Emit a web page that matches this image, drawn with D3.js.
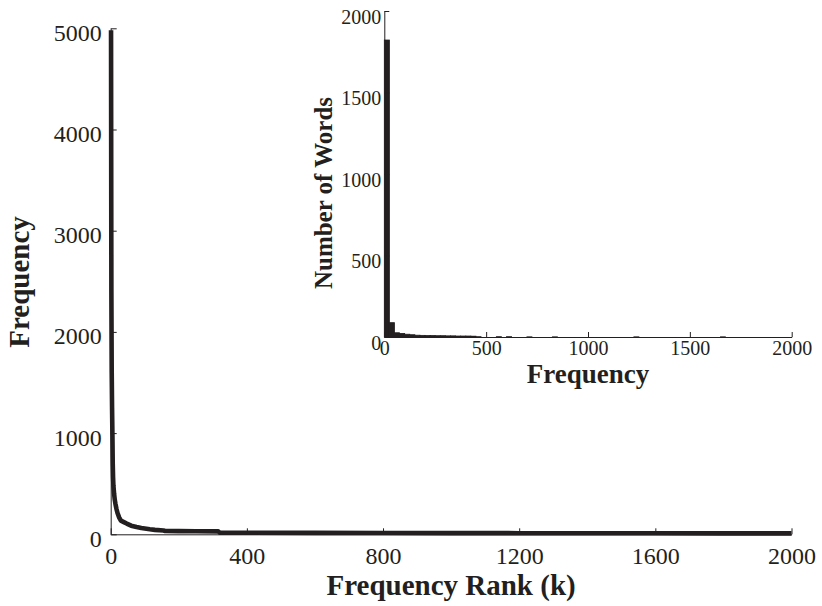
<!DOCTYPE html>
<html>
<head>
<meta charset="utf-8">
<script src="https://cdn.jsdelivr.net/npm/d3@7"></script>
<style>
  html, body { margin: 0; padding: 0; background: #fff; }
  svg { display: block; }
  text { font-family: "Liberation Serif", "Times New Roman", serif; fill: #231f20; }
</style>
</head>
<body>
<svg id="chart" width="822" height="606"></svg>
<script>
// ---- Main plot data: frequency vs frequency rank ----
const rankValues = [1, 2, 3, 4, 5, 6, 7, 8, 10, 12, 14, 17, 20, 25, 30, 40, 47, 60, 76, 90, 115, 130, 155, 160, 200, 250, 316, 320, 400, 600, 800, 1000, 1200, 1400, 1600, 1800, 2000];
const freqValues = [4980, 2400, 1600, 1250, 1000, 700, 560, 480, 400, 340, 300, 250, 210, 165, 135, 118, 106, 85, 72, 62, 50, 44, 38, 33, 31, 30, 29, 16, 15, 14, 13, 12, 11, 10, 10, 9, 9];
const mainXTicks = [0, 400, 800, 1200, 1600, 2000];
const mainYTicks = [0, 1000, 2000, 3000, 4000, 5000];

// ---- Inset histogram data: number of words per frequency bin (bin width 25) ----
const binWidth = 25;
const binCounts = [
  1822, 88, 26, 22, 17, 14, 11, 10, 9, 9, 8, 8, 7, 7, 6, 6, 6, 5, 2, 0,
  0, 0, 2, 0, 2, 0, 0, 0, 1, 0, 0, 0, 0, 1, 0, 0, 0, 0, 0, 0,
  0, 0, 0, 0, 0, 0, 0, 0, 0, 1, 0, 0, 0, 0, 0, 0, 0, 0, 0, 0,
  0, 0, 0, 0, 0, 0, 1, 0, 0, 0, 0, 0, 0, 0, 0, 0, 0, 0, 0, 0
];
const insetXTicks = [0, 500, 1000, 1500, 2000];
const insetYTicks = [0, 500, 1000, 1500, 2000];

const ink = "#231f20";
const svg = d3.select("#chart");

// ---------- Main axes ----------
const x = d3.scaleLinear().domain([0, 2000]).range([110.7, 791.5]);
const y = d3.scaleLinear().domain([0, 5000]).range([534.3, 28.3]);

function styleAxis(g) {
  g.selectAll("path.domain").attr("stroke", ink).attr("stroke-width", 1);
  g.selectAll(".tick line").attr("stroke", ink).attr("stroke-width", 1);
  g.selectAll(".tick text").attr("fill", ink).attr("font-family", '"Liberation Serif", serif');
}

const gx = svg.append("g").attr("transform", `translate(0,${y(0)})`)
  .call(d3.axisBottom(x).tickValues(mainXTicks).tickFormat(d3.format("d")).tickSize(-6).tickSizeOuter(0).tickPadding(0));
styleAxis(gx);
gx.selectAll(".tick text").attr("font-size", 24).attr("dy", 0).attr("y", 30);

const gy = svg.append("g").attr("transform", `translate(${x(0)},0)`)
  .call(d3.axisLeft(y).tickValues(mainYTicks).tickFormat(d3.format("d")).tickSize(-6).tickSizeOuter(0).tickPadding(9));
styleAxis(gy);
gy.selectAll(".tick text").attr("font-size", 24).attr("dy", 0).attr("y", 12);

const line = d3.line().x((d, i) => x(rankValues[i])).y(d => y(d));
svg.append("path")
  .datum(freqValues)
  .attr("fill", "none")
  .attr("stroke", ink)
  .attr("stroke-width", 4.6)
  .attr("stroke-linejoin", "round")
  .attr("d", line);

svg.append("text")
  .attr("x", (x(0) + x(2000)) / 2).attr("y", 595)
  .attr("text-anchor", "middle").attr("font-weight", "bold").attr("font-size", 29)
  .text("Frequency Rank (k)");

svg.append("text")
  .attr("transform", `translate(29,282) rotate(-90)`)
  .attr("text-anchor", "middle").attr("font-weight", "bold").attr("font-size", 29)
  .text("Frequency");

// ---------- Inset axes ----------
const ix = d3.scaleLinear().domain([0, 2000]).range([384.3, 791.7]);
const iy = d3.scaleLinear().domain([0, 2000]).range([337, 11]);

const bins = binCounts.map((c, i) => ({ x0: i * binWidth, x1: (i + 1) * binWidth, c }));
svg.append("g").selectAll("rect")
  .data(bins.filter(b => b.c > 0))
  .join("rect")
  .attr("x", d => ix(d.x0))
  .attr("width", d => ix(d.x1) - ix(d.x0))
  .attr("y", d => iy(d.c))
  .attr("height", d => iy(0) - iy(d.c))
  .attr("fill", ink)
  .attr("stroke", ink)
  .attr("stroke-width", 0.8);

const igx = svg.append("g").attr("transform", `translate(0,${iy(0)})`)
  .call(d3.axisBottom(ix).tickValues(insetXTicks).tickFormat(d3.format("d")).tickSize(-5).tickSizeOuter(0).tickPadding(0));
styleAxis(igx);
igx.selectAll(".tick text").attr("font-size", 20).attr("dy", 0).attr("y", 18);

const igy = svg.append("g").attr("transform", `translate(${ix(0)},0)`)
  .call(d3.axisLeft(iy).tickValues(insetYTicks).tickFormat(d3.format("d")).tickSize(-5).tickSizeOuter(0).tickPadding(3));
styleAxis(igy);
igy.selectAll(".tick text").attr("font-size", 20).attr("dy", 0).attr("y", 12);

svg.append("text")
  .attr("x", (ix(0) + ix(2000)) / 2).attr("y", 383)
  .attr("text-anchor", "middle").attr("font-weight", "bold").attr("font-size", 27)
  .text("Frequency");

svg.append("text")
  .attr("transform", `translate(332,193) rotate(-90)`)
  .attr("text-anchor", "middle").attr("font-weight", "bold").attr("font-size", 25)
  .text("Number of Words");
</script>
</body>
</html>
